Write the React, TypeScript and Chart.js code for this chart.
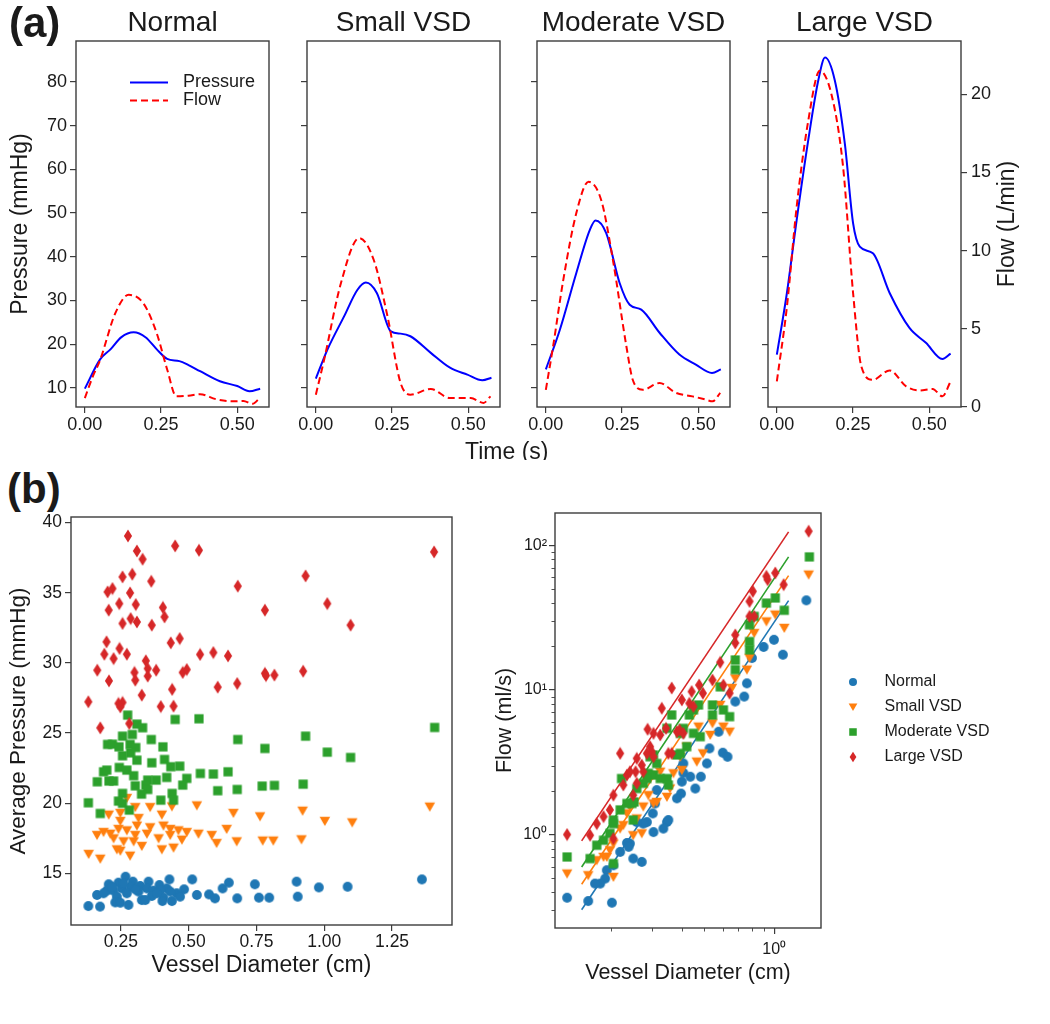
import React, { useEffect, useRef } from 'react';
import { Chart, registerables } from 'chart.js';

Chart.register(...registerables);

const FONT = '"Liberation Sans", Arial, Helvetica, sans-serif';
const TEXT = '#1a1a1a';
const AXIS = '#3c3c3c';

// ---------------- (a) waveforms ----------------
const panelTitles = ['Normal', 'Small VSD', 'Moderate VSD', 'Large VSD'];
const timeTicks = [0, 0.25, 0.5];
const pressureTicks = [10, 20, 30, 40, 50, 60, 70, 80];
const flowTicks = [0, 5, 10, 15, 20];

// [time (s), pressure (mmHg)]
const pressureNormal = [[0, 9.8], [0.05, 16.5], [0.084, 18.8], [0.12, 21.6], [0.16, 22.7], [0.2, 21.5], [0.236, 18.8], [0.27, 16.6], [0.31, 16.1], [0.34, 15.2], [0.378, 13.8], [0.443, 11.5], [0.5, 10.4], [0.54, 9.2], [0.575, 9.8]];
const pressureSmall = [[0, 12.1], [0.038, 18.75], [0.093, 26.4], [0.136, 32.4], [0.164, 34.1], [0.2, 31.7], [0.246, 22.9], [0.278, 22.4], [0.31, 21.8], [0.377, 18], [0.44, 14.6], [0.497, 13], [0.546, 11.7], [0.576, 12.3]];
const pressureModerate = [[0, 14.2], [0.046, 23.3], [0.1, 36.3], [0.144, 46.1], [0.163, 48.3], [0.198, 45.4], [0.242, 34], [0.275, 29], [0.313, 27.9], [0.373, 22.6], [0.438, 17.6], [0.492, 15.3], [0.545, 13.4], [0.574, 14.2]];
const pressureLarge = [[0, 17.6], [0.033, 31.7], [0.065, 48.4], [0.103, 66.7], [0.136, 80.4], [0.158, 85.6], [0.19, 80.4], [0.223, 65.9], [0.25, 47.7], [0.272, 42.3], [0.315, 40.8], [0.37, 31.7], [0.435, 23.7], [0.489, 20.3], [0.543, 16.6], [0.57, 17.8]];

// [time (s), flow (L/min)]
const flowNormal = [[0, 0.57], [0.025, 1.9], [0.05, 3.0], [0.1, 6.0], [0.144, 7.17], [0.193, 6.6], [0.236, 4.7], [0.27, 2.4], [0.3, 0.68], [0.34, 0.72], [0.378, 0.82], [0.43, 0.5], [0.487, 0.36], [0.52, 0.38], [0.55, 0.2], [0.575, 0.6]];
const flowSmall = [[0, 0.79], [0.027, 3.0], [0.082, 7.9], [0.142, 10.8], [0.19, 9.4], [0.235, 5.8], [0.278, 1.53], [0.31, 0.79], [0.377, 1.15], [0.44, 0.57], [0.508, 0.57], [0.55, 0.26], [0.573, 0.68]];
const flowModerate = [[0, 1.1], [0.024, 3.9], [0.057, 8.1], [0.1, 12.4], [0.14, 14.4], [0.182, 13.2], [0.22, 9.4], [0.264, 3.9], [0.285, 1.74], [0.318, 1.1], [0.373, 1.53], [0.427, 0.9], [0.481, 0.68], [0.525, 0.47], [0.547, 0.36], [0.572, 0.9]];
const flowLarge = [[0, 1.64], [0.033, 6.4], [0.065, 12.8], [0.103, 18.3], [0.141, 21.5], [0.179, 20], [0.217, 15.4], [0.25, 7.3], [0.277, 2.6], [0.315, 1.74], [0.37, 2.34], [0.424, 1.32], [0.467, 1.06], [0.511, 1.15], [0.543, 0.68], [0.57, 1.64]];

const pressureCurves = [pressureNormal, pressureSmall, pressureModerate, pressureLarge];
const flowCurves = [flowNormal, flowSmall, flowModerate, flowLarge];

// ---------------- (b) scatter ----------------
const seriesNames = ['Normal', 'Small VSD', 'Moderate VSD', 'Large VSD'];
const seriesColors = ['#1f77b4', '#ff7f0e', '#2ca02c', '#d62728'];
const seriesShapes = ['o', 'v', 's', 'd'];
const diameterTicks = [0.25, 0.5, 0.75, 1.0, 1.25];
const avgPressureTicks = [15, 20, 25, 30, 35, 40];
const logFlowTicks = [1, 10, 100];
const logDiameterTicks = [1];
const logFlowMinorTicks = [0.3, 0.4, 0.5, 0.6, 0.7, 0.8, 0.9, 2, 3, 4, 5, 6, 7, 8, 9, 20, 30, 40, 50, 60, 70, 80, 90];
const logDiameterMinorTicks = [0.2, 0.3, 0.4, 0.5, 0.6, 0.7, 0.8, 0.9];

// [vessel diameter (cm), average pressure (mmHg)]
const avgPressureNormal = [[0.267, 14.76], [0.429, 14.57], [0.513, 14.57], [1.36, 14.57], [0.648, 14.34], [0.744, 14.22], [0.898, 14.41], [0.98, 14.0], [1.086, 14.05], [0.205, 14.22], [0.241, 14.34], [0.294, 14.41], [0.352, 14.41], [0.392, 14.17], [0.419, 13.93], [0.483, 13.86], [0.625, 13.93], [0.162, 13.46], [0.198, 13.77], [0.223, 13.77], [0.254, 13.93], [0.287, 14.05], [0.321, 14.1], [0.346, 13.93], [0.37, 13.77], [0.395, 13.81], [0.456, 13.58], [0.53, 13.46], [0.575, 13.5], [0.186, 13.58], [0.235, 13.34], [0.272, 13.58], [0.315, 13.7], [0.364, 13.39], [0.407, 13.27], [0.468, 13.34], [0.597, 13.22], [0.679, 13.22], [0.759, 13.27], [0.797, 13.27], [0.902, 13.34], [0.229, 12.93], [0.248, 12.91], [0.327, 13.1], [0.34, 13.1], [0.403, 13.03], [0.438, 13.03], [0.13, 12.67], [0.173, 12.63], [0.278, 12.75], [0.217, 14.05], [0.26, 14.29], [0.303, 13.86], [0.383, 13.58], [0.432, 13.7]];
const avgPressureSmall = [[0.272, 20.37], [0.438, 19.77], [0.53, 19.84], [0.665, 19.3], [0.763, 19.06], [0.205, 19.18], [0.248, 19.3], [0.303, 19.72], [0.358, 19.72], [0.401, 19.18], [0.248, 18.73], [0.315, 18.94], [0.186, 17.94], [0.211, 17.82], [0.241, 18.16], [0.272, 18.06], [0.309, 18.4], [0.358, 18.28], [0.407, 18.4], [0.432, 18.16], [0.462, 18.06], [0.493, 17.94], [0.536, 17.82], [0.585, 17.73], [0.64, 18.16], [0.162, 17.73], [0.223, 17.49], [0.26, 17.28], [0.303, 17.73], [0.346, 17.82], [0.389, 17.49], [0.432, 17.73], [0.475, 17.4], [0.327, 16.95], [0.401, 16.71], [0.444, 16.83], [0.235, 16.71], [0.248, 16.61], [0.284, 16.26], [0.131, 16.38], [0.174, 16.04], [0.677, 17.28], [0.603, 17.16], [0.773, 17.33], [0.297, 17.28], [0.92, 19.46], [1.002, 18.73], [1.103, 18.63], [1.389, 19.75], [0.812, 17.33], [0.916, 17.42]];
const avgPressureModerate = [[0.275, 26.28], [0.309, 25.64], [0.33, 25.38], [0.45, 25.97], [0.538, 26.02], [1.407, 25.4], [0.256, 24.78], [0.292, 24.9], [0.362, 24.54], [0.681, 24.54], [0.931, 24.78], [0.201, 24.19], [0.219, 24.21], [0.243, 24.02], [0.284, 24.19], [0.305, 23.97], [0.405, 24.02], [0.781, 23.9], [1.011, 23.64], [0.286, 23.59], [0.256, 23.38], [0.309, 23.07], [0.364, 22.88], [0.411, 23.12], [1.097, 23.26], [0.244, 22.55], [0.272, 22.36], [0.186, 22.24], [0.198, 22.36], [0.297, 21.96], [0.434, 22.6], [0.467, 22.64], [0.543, 22.12], [0.591, 22.08], [0.645, 22.24], [0.163, 21.53], [0.206, 21.58], [0.223, 21.58], [0.349, 21.65], [0.38, 21.65], [0.419, 21.84], [0.493, 21.77], [0.303, 21.24], [0.342, 21.29], [0.349, 20.98], [0.478, 21.29], [0.607, 20.89], [0.679, 20.98], [0.771, 21.22], [0.816, 21.27], [0.922, 21.36], [0.256, 20.7], [0.326, 20.65], [0.439, 20.7], [0.397, 20.22], [0.13, 20.03], [0.241, 20.15], [0.256, 19.99], [0.444, 20.22], [0.174, 19.27], [0.281, 19.51]];
const avgPressureLarge = [[0.276, 39.05], [0.45, 38.34], [0.538, 38.03], [1.405, 37.91], [0.309, 37.98], [0.33, 37.39], [0.256, 36.13], [0.292, 36.32], [0.362, 35.82], [0.931, 36.2], [0.201, 35.06], [0.219, 35.3], [0.284, 34.99], [0.681, 35.47], [0.205, 33.76], [0.244, 34.23], [0.305, 34.16], [0.405, 33.95], [0.781, 33.76], [1.011, 34.23], [0.286, 33.16], [0.309, 32.92], [0.256, 32.81], [0.364, 32.69], [0.411, 33.28], [1.097, 32.69], [0.197, 31.5], [0.434, 31.43], [0.467, 31.74], [0.245, 31.03], [0.189, 30.62], [0.223, 30.31], [0.272, 30.62], [0.542, 30.6], [0.591, 30.74], [0.645, 30.5], [0.163, 29.48], [0.206, 28.72], [0.3, 29.32], [0.342, 30.15], [0.349, 29.6], [0.38, 29.48], [0.349, 29.06], [0.478, 29.32], [0.493, 29.53], [0.781, 29.25], [0.785, 29.1], [0.816, 29.13], [0.922, 29.41], [0.303, 28.77], [0.679, 28.53], [0.607, 28.27], [0.327, 27.7], [0.439, 28.11], [0.13, 27.23], [0.241, 27.11], [0.256, 27.18], [0.248, 26.87], [0.397, 26.89], [0.444, 26.92], [0.174, 25.37], [0.281, 25.68]];

// [vessel diameter (cm), flow (ml/s)]
const vesselFlowNormal = [[0.129, 0.366], [1.373, 41.6], [1.089, 17.5], [0.997, 22.2], [0.9, 19.8], [0.802, 16.6], [0.763, 11.1], [0.68, 8.3], [0.743, 8.99], [0.577, 5.14], [0.527, 3.94], [0.514, 3.1], [0.601, 3.68], [0.63, 3.45], [0.484, 2.51], [0.458, 2.08], [0.407, 2.67], [0.401, 2.32], [0.398, 1.92], [0.382, 1.78], [0.346, 1.22], [0.351, 1.26], [0.334, 1.1], [0.301, 1.4], [0.303, 1.04], [0.284, 1.22], [0.274, 1.19], [0.257, 1.22], [0.24, 0.867], [0.233, 0.875], [0.237, 0.822], [0.248, 0.682], [0.27, 0.647], [0.218, 0.759], [0.204, 0.613], [0.191, 0.567], [0.188, 0.496], [0.179, 0.458], [0.17, 0.458], [0.159, 0.347], [0.201, 0.338], [0.308, 1.64], [0.313, 2.03], [0.407, 3.1], [0.436, 2.51]];
const vesselFlowSmall = [[0.129, 0.537], [1.405, 62.6], [1.104, 26.8], [1.01, 33.1], [0.925, 29.7], [0.82, 24.7], [0.783, 16.6], [0.763, 13.8], [0.68, 12.0], [0.658, 10.3], [0.586, 7.87], [0.543, 5.87], [0.605, 5.57], [0.643, 5.14], [0.531, 4.88], [0.473, 5.57], [0.494, 3.64], [0.465, 3.19], [0.421, 4.05], [0.395, 3.45], [0.401, 2.79], [0.369, 2.65], [0.357, 2.08], [0.346, 1.82], [0.324, 2.72], [0.303, 2.58], [0.288, 1.87], [0.303, 1.64], [0.274, 1.56], [0.27, 1.02], [0.257, 1.29], [0.248, 0.989], [0.233, 1.4], [0.225, 1.16], [0.218, 1.1], [0.204, 0.867], [0.197, 0.779], [0.191, 0.7], [0.185, 0.7], [0.173, 0.664], [0.159, 0.523], [0.204, 0.509], [0.24, 1.56], [0.313, 1.68]];
const vesselFlowModerate = [[0.129, 0.7], [1.414, 83.0], [1.01, 43.2], [0.925, 39.8], [1.104, 35.5], [0.82, 32.2], [0.783, 28.2], [0.783, 21.6], [0.783, 18.9], [0.68, 16.1], [0.68, 13.8], [0.586, 10.5], [0.543, 7.87], [0.543, 6.71], [0.605, 7.27], [0.643, 6.53], [0.363, 6.71], [0.432, 6.71], [0.45, 7.27], [0.473, 7.87], [0.481, 4.75], [0.45, 5.01], [0.407, 5.42], [0.395, 5.01], [0.346, 5.42], [0.421, 4.05], [0.382, 3.55], [0.395, 3.64], [0.293, 3.45], [0.303, 3.55], [0.313, 3.1], [0.288, 2.65], [0.303, 2.58], [0.324, 2.44], [0.346, 2.44], [0.351, 2.2], [0.274, 2.26], [0.284, 2.44], [0.257, 2.08], [0.245, 1.64], [0.25, 1.68], [0.233, 1.64], [0.248, 1.26], [0.221, 2.44], [0.218, 1.48], [0.204, 1.26], [0.204, 1.19], [0.197, 1.02], [0.185, 0.914], [0.173, 0.844], [0.162, 0.682], [0.204, 0.63]];
const vesselFlowLarge = [[0.129, 1.0], [1.405, 125], [1.01, 64.3], [0.925, 61.0], [0.936, 57.8], [1.097, 53.4], [0.783, 40.9], [0.809, 48.0], [0.82, 32.2], [0.783, 32.2], [0.68, 24.0], [0.68, 21.1], [0.586, 15.5], [0.543, 11.7], [0.476, 10.8], [0.494, 9.48], [0.605, 10.8], [0.643, 9.48], [0.363, 10.3], [0.401, 8.53], [0.442, 9.73], [0.432, 8.08], [0.45, 7.67], [0.329, 7.46], [0.343, 5.42], [0.286, 5.34], [0.303, 5.01], [0.324, 4.88], [0.382, 5.14], [0.392, 5.28], [0.407, 5.01], [0.293, 4.05], [0.298, 3.74], [0.303, 3.45], [0.284, 3.64], [0.351, 3.64], [0.363, 3.64], [0.257, 3.36], [0.27, 3.02], [0.274, 2.72], [0.254, 2.72], [0.218, 3.64], [0.233, 2.58], [0.24, 2.72], [0.257, 2.26], [0.225, 2.2], [0.248, 1.87], [0.204, 1.87], [0.197, 1.48], [0.185, 1.33], [0.173, 1.19], [0.162, 0.989], [0.204, 0.938]];

// power-law fit end points [diameter, flow]
const fitNormal = [[0.149, 0.302], [1.152, 41.4]];
const fitSmall = [[0.149, 0.453], [1.152, 61.6]];
const fitModerate = [[0.149, 0.597], [1.152, 83.0]];
const fitLarge = [[0.149, 0.904], [1.152, 123.7]];

const avgPressureSeries = [avgPressureNormal, avgPressureSmall, avgPressureModerate, avgPressureLarge];
const vesselFlowSeries = [vesselFlowNormal, vesselFlowSmall, vesselFlowModerate, vesselFlowLarge];
const fitSeries = [fitNormal, fitSmall, fitModerate, fitLarge];

const toXY = (arr: number[][]) => arr.map(([x, y]) => ({ x, y }));
const font = (size: number, weight = 'normal') => ({ family: FONT, size, weight });

function makeMarker(shape: string, color: string, k = 1) {
  const c = document.createElement('canvas');
  const w = shape === 'd' ? 10 : 12;
  const h = shape === 'd' ? 14 : 12;
  c.width = w;
  c.height = h;
  const ctx = c.getContext('2d') as CanvasRenderingContext2D;
  ctx.fillStyle = color;
  const cx = w / 2;
  const cy = h / 2;
  ctx.beginPath();
  if (shape === 'o') ctx.arc(cx, cy, 4.9 * k, 0, Math.PI * 2);
  else if (shape === 's') ctx.rect(cx - 4.6 * k, cy - 4.6 * k, 9.2 * k, 9.2 * k);
  else if (shape === 'v') {
    ctx.moveTo(cx - 5.3 * k, cy - 4.3 * k);
    ctx.lineTo(cx + 5.3 * k, cy - 4.3 * k);
    ctx.lineTo(cx, cy + 4.9 * k);
    ctx.closePath();
  } else {
    ctx.moveTo(cx, cy - 6.5 * k);
    ctx.lineTo(cx + 4.1 * k, cy);
    ctx.lineTo(cx, cy + 6.5 * k);
    ctx.lineTo(cx - 4.1 * k, cy);
    ctx.closePath();
  }
  ctx.fill();
  return c;
}

const framePlugin = {
  id: 'frame',
  afterDatasetsDraw(chart: any) {
    const { ctx, chartArea: a } = chart;
    ctx.save();
    ctx.strokeStyle = AXIS;
    ctx.lineWidth = 1.4;
    ctx.strokeRect(a.left, a.top, a.right - a.left, a.bottom - a.top);
    ctx.restore();
  },
};

const tickGrid = { drawOnChartArea: false, drawTicks: true, tickLength: 6, color: AXIS, lineWidth: 1.2 };

function setTicks(values: number[]) {
  return (s: any) => {
    s.ticks = values.map((v) => ({ value: v }));
  };
}

function topPanelConfig(i: number) {
  const first = i === 0;
  const last = i === 3;
  const plugins: any[] = [
    framePlugin,
    {
      id: 'panelTitle',
      afterDraw(chart: any) {
        const { ctx, chartArea: a } = chart;
        ctx.save();
        ctx.fillStyle = TEXT;
        ctx.font = `28px ${FONT}`;
        ctx.textAlign = 'center';
        ctx.textBaseline = 'middle';
        ctx.fillText(panelTitles[i], (a.left + a.right) / 2, 23);
        ctx.restore();
      },
    },
  ];
  if (first) {
    plugins.push({
      id: 'waveLegend',
      afterDraw(chart: any) {
        const { ctx, chartArea: a } = chart;
        const rows = [
          { label: 'Pressure', color: '#0000ff', dash: [] as number[] },
          { label: 'Flow', color: '#ff0000', dash: [7, 4] },
        ];
        ctx.save();
        rows.forEach((r, k) => {
          const y = a.top + 41.5 + k * 18;
          ctx.strokeStyle = r.color;
          ctx.lineWidth = 2;
          ctx.setLineDash(r.dash);
          ctx.beginPath();
          ctx.moveTo(a.left + 54, y);
          ctx.lineTo(a.left + 92, y);
          ctx.stroke();
          ctx.setLineDash([]);
          ctx.fillStyle = TEXT;
          ctx.font = `18px ${FONT}`;
          ctx.textAlign = 'left';
          ctx.textBaseline = 'middle';
          ctx.fillText(r.label, a.left + 107, y);
        });
        ctx.restore();
      },
    });
  }
  if (last) {
    plugins.push({
      id: 'flowTitle',
      afterDraw(chart: any) {
        const { ctx, chartArea: a } = chart;
        ctx.save();
        ctx.translate(a.right + 47, (a.top + a.bottom) / 2);
        ctx.rotate(-Math.PI / 2);
        ctx.fillStyle = TEXT;
        ctx.font = `23px ${FONT}`;
        ctx.textAlign = 'center';
        ctx.textBaseline = 'middle';
        ctx.fillText('Flow (L/min)', 0, 0);
        ctx.restore();
      },
    });
  }
  return {
    type: 'scatter',
    data: {
      datasets: [
        {
          label: 'Flow',
          data: toXY(flowCurves[i]),
          yAxisID: 'y2',
          showLine: true,
          borderColor: '#ff0000',
          borderWidth: 2,
          borderDash: [7, 4],
          pointRadius: 0,
          tension: 0.4,
          cubicInterpolationMode: 'monotone',
          order: 1,
        },
        {
          label: 'Pressure',
          data: toXY(pressureCurves[i]),
          yAxisID: 'y',
          showLine: true,
          borderColor: '#0000ff',
          borderWidth: 2,
          pointRadius: 0,
          tension: 0.4,
          cubicInterpolationMode: 'monotone',
          order: 2,
        },
      ],
    },
    options: {
      responsive: false,
      animation: false,
      events: [],
      layout: { padding: { top: 41, right: 0, left: 0, bottom: 0 } },
      plugins: { legend: { display: false }, tooltip: { enabled: false }, title: { display: false } },
      scales: {
        x: {
          type: 'linear',
          min: -0.029,
          max: 0.604,
          afterBuildTicks: setTicks(timeTicks),
          afterFit: (s: any) => { s.height = 33; },
          ticks: { callback: (v: any) => Number(v).toFixed(2), font: font(18), color: TEXT, padding: 1.5, maxRotation: 0, autoSkip: false },
          grid: tickGrid,
          border: { display: false },
        },
        y: {
          type: 'linear',
          position: 'left',
          min: 5.6,
          max: 89.4,
          afterBuildTicks: setTicks(pressureTicks),
          afterFit: (s: any) => { s.width = 76; },
          ticks: { callback: (v: any) => (first ? String(v) : ''), font: font(18), color: TEXT, padding: 3, autoSkip: false },
          grid: tickGrid,
          border: { display: false },
          title: { display: first, text: 'Pressure (mmHg)', font: font(23), color: TEXT, padding: { top: 7, bottom: 0 } },
        },
        y2: {
          type: 'linear',
          position: 'right',
          display: last,
          min: 0,
          max: 23.4,
          afterBuildTicks: setTicks(flowTicks),
          afterFit: (s: any) => { s.width = 88; },
          ticks: { font: font(18), color: TEXT, padding: 4, autoSkip: false },
          grid: tickGrid,
          border: { display: false },
        },
      },
    },
    plugins,
  };
}

function pressureScatterConfig() {
  const markers = seriesShapes.map((s, k) => makeMarker(s, seriesColors[k]));
  return {
    type: 'scatter',
    data: {
      datasets: avgPressureSeries.map((s, k) => ({
        label: seriesNames[k],
        data: toXY(s),
        pointStyle: markers[k],
        pointRadius: 4,
        order: 4 - k,
      })),
    },
    options: {
      responsive: false,
      animation: false,
      events: [],
      layout: { padding: { top: 37, right: 18, left: 0, bottom: 0 } },
      plugins: { legend: { display: false }, tooltip: { enabled: false } },
      scales: {
        x: {
          type: 'linear',
          min: 0.066,
          max: 1.471,
          afterBuildTicks: setTicks(diameterTicks),
          afterFit: (s: any) => { s.height = 65; },
          ticks: { callback: (v: any) => Number(v).toFixed(2), font: font(17.5), color: TEXT, padding: 1, maxRotation: 0, autoSkip: false },
          grid: tickGrid,
          border: { display: false },
          title: { display: true, text: 'Vessel Diameter (cm)', font: font(23), color: TEXT, padding: { top: 0, bottom: 11 } },
        },
        y: {
          type: 'linear',
          min: 11.32,
          max: 40.4,
          afterBuildTicks: setTicks(avgPressureTicks),
          afterFit: (s: any) => { s.width = 71; },
          ticks: { font: font(17.5), color: TEXT, padding: 3, autoSkip: false },
          grid: tickGrid,
          border: { display: false },
          title: { display: true, text: 'Average Pressure (mmHg)', font: font(22.5), color: TEXT, padding: { top: 5, bottom: 0 } },
        },
      },
    },
    plugins: [framePlugin],
  };
}

const SUP: Record<number, string> = { 0: '\u2070', 1: '\u00B9', 2: '\u00B2' };
const powLabel = (v: any) => '10' + SUP[Math.round(Math.log10(Number(v)))];

function flowScatterConfig() {
  const markers = seriesShapes.map((s, k) => makeMarker(s, seriesColors[k]));
  const legendMarkers = seriesShapes.map((s, k) => makeMarker(s, seriesColors[k], 0.82));
  const minorPlugin = {
    id: 'minorTicks',
    afterDraw(chart: any) {
      const { ctx, chartArea: a, scales } = chart;
      ctx.save();
      ctx.strokeStyle = AXIS;
      ctx.lineWidth = 0.9;
      logDiameterMinorTicks.forEach((v) => {
        const px = Math.round(scales.x.getPixelForValue(v)) + 0.5;
        ctx.beginPath();
        ctx.moveTo(px, a.bottom);
        ctx.lineTo(px, a.bottom + 3.5);
        ctx.stroke();
      });
      logFlowMinorTicks.forEach((v) => {
        const py = Math.round(scales.y.getPixelForValue(v)) + 0.5;
        ctx.beginPath();
        ctx.moveTo(a.left, py);
        ctx.lineTo(a.left - 3.5, py);
        ctx.stroke();
      });
      ctx.restore();
    },
  };
  const legendPlugin = {
    id: 'flowLegend',
    afterDraw(chart: any) {
      const { ctx, chartArea: a } = chart;
      ctx.save();
      ctx.font = `16px ${FONT}`;
      ctx.fillStyle = TEXT;
      ctx.textAlign = 'left';
      ctx.textBaseline = 'middle';
      seriesNames.forEach((name, k) => {
        const y = a.top + 169 + k * 25;
        const m = legendMarkers[k];
        ctx.drawImage(m, a.right + 32 - m.width / 2, y - m.height / 2);
        ctx.fillText(name, a.right + 63.5, y);
      });
      ctx.restore();
    },
  };
  return {
    type: 'scatter',
    data: {
      datasets: [
        ...fitSeries.map((f, k) => ({
          label: seriesNames[k] + ' fit',
          data: toXY(f),
          showLine: true,
          pointRadius: 0,
          borderColor: seriesColors[k],
          borderWidth: 1.6,
          order: 10 + k,
        })),
        ...vesselFlowSeries.map((s, k) => ({
          label: seriesNames[k],
          data: toXY(s),
          pointStyle: markers[k],
          pointRadius: 4,
          order: 4 - k,
        })),
      ],
    },
    options: {
      responsive: false,
      animation: false,
      events: [],
      layout: { padding: { top: 33, right: 229, left: 0, bottom: 0 } },
      plugins: { legend: { display: false }, tooltip: { enabled: false } },
      scales: {
        x: {
          type: 'logarithmic',
          min: 0.1145,
          max: 1.587,
          afterBuildTicks: setTicks(logDiameterTicks),
          afterFit: (s: any) => { s.height = 62; },
          ticks: { callback: powLabel, font: font(16), color: TEXT, padding: 6, maxRotation: 0, autoSkip: false },
          grid: tickGrid,
          border: { display: false },
          title: { display: true, text: 'Vessel Diameter (cm)', font: font(21.5), color: TEXT, padding: { top: 0, bottom: 4 } },
        },
        y: {
          type: 'logarithmic',
          min: 0.226,
          max: 167,
          afterBuildTicks: setTicks(logFlowTicks),
          afterFit: (s: any) => { s.width = 75; },
          ticks: { callback: powLabel, font: font(16), color: TEXT, padding: 2, autoSkip: false },
          grid: tickGrid,
          border: { display: false },
          title: { display: true, text: 'Flow (ml/s)', font: font(21.5), color: TEXT, padding: { top: 12, bottom: 0 } },
        },
      },
    },
    plugins: [framePlugin, minorPlugin, legendPlugin],
  };
}

function ChartBox({ left, top, width, height, make }: any) {
  const ref = useRef<HTMLCanvasElement | null>(null);
  useEffect(() => {
    const chart = new Chart(ref.current as HTMLCanvasElement, make());
    return () => chart.destroy();
  }, []);
  return (
    <canvas
      ref={ref}
      width={width}
      height={height}
      style={{ position: 'absolute', left, top, width, height }}
    />
  );
}

const panelPlotLefts = [76, 307, 537, 768];

export default function App() {
  return (
    <div
      style={{
        position: 'absolute',
        left: 0,
        top: 0,
        width: 1050,
        height: 1024,
        overflow: 'hidden',
        background: '#ffffff',
        fontFamily: FONT,
        color: TEXT,
      }}
    >
      {panelPlotLefts.map((pl, i) => (
        <ChartBox key={i} left={pl - 76} top={0} width={357} height={440} make={() => topPanelConfig(i)} />
      ))}
      <div style={{ position: 'absolute', left: 9, top: 2, fontSize: 42, fontWeight: 'bold', lineHeight: '42px' }}>(a)</div>
      <div style={{ position: 'absolute', left: 465, top: 440, height: 20, overflow: 'hidden' }}>
        <div style={{ fontSize: 23, lineHeight: '23px', whiteSpace: 'nowrap' }}>Time (s)</div>
      </div>
      <div style={{ position: 'absolute', left: 7, top: 468, fontSize: 42, fontWeight: 'bold', lineHeight: '42px' }}>(b)</div>
      <ChartBox left={0} top={480} width={470} height={510} make={pressureScatterConfig} />
      <ChartBox left={480} top={480} width={570} height={510} make={flowScatterConfig} />
    </div>
  );
}
